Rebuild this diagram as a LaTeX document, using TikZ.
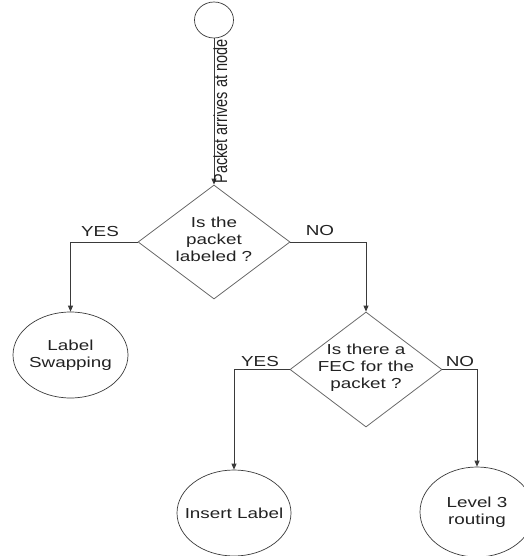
\documentclass[tikz,border=0pt]{standalone}
\usepackage{fontspec}
\usepackage{graphicx}
\setmainfont{Liberation Sans}[FakeStretch=1.3]
\newfontfamily\rotfont{Liberation Sans}
\usetikzlibrary{shapes.geometric,arrows.meta}
\definecolor{ln}{HTML}{3A3A3A}
\definecolor{sh}{HTML}{6A6A6A}
\definecolor{tx}{HTML}{222222}
\tikzset{
  dia/.style={draw=sh, line width=0.8pt, shape=diamond, inner sep=0pt, minimum width=152pt, minimum height=114pt},
  ell/.style={draw=ln, line width=0.7pt, shape=ellipse, inner sep=0pt},
  txt/.style={text=tx, font=\fontsize{14.5}{17}\selectfont, align=center, inner sep=0pt},
  arr/.style={draw=ln, line width=0.8pt, -{Triangle[length=6pt,width=5pt]}},
}
\begin{document}
\begin{tikzpicture}[x=1pt,y=-1pt]
\useasboundingbox (0,0) rectangle (523,556);
% nodes
\node[ell, minimum width=39pt, minimum height=36pt] (s) at (214,20) {};
\node[dia] (d1) at (214,242) {};
\node[txt] at (214,239) {Is the\\packet\\labeled ?};
\node[ell, minimum width=115pt, minimum height=86pt] (ls) at (70.5,355) {};
\node[txt] at (ls) {Label\\Swapping};
\node[dia, minimum height=115pt] (d2) at (366,369.5) {};
\node[txt] at (366,368) {Is there a\\FEC for the\\packet ?};
\node[ell, minimum width=114pt, minimum height=86pt] (il) at (234,513) {};
\node[txt] at (il) {Insert Label};
\node[ell, minimum width=114pt, minimum height=90pt] (l3) at (477,512) {};
\node[txt] at (l3) {Level 3\\routing};
% connectors
\draw[arr] (s.south) -- (d1.north)
  node[midway, right=-1pt, rotate=90, anchor=north, txt] {\rotfont\scalebox{1}[1.3]{Packet arrives at node}};
\draw[arr] (d1.west) -| (ls.north);
\draw[arr] (d1.east) -| (d2.north);
\draw[arr] (d2.west) -| (il.north);
\draw[arr] (d2.east) -| (l3.north);
% labels
\node[txt] (y1) at (100,232) {YES};
\node[txt] (n1) at (320,231) {NO};
\node[txt] (y2) at (260,362) {YES};
\node[txt] (n2) at (460,362) {NO};
\end{tikzpicture}
\end{document}
